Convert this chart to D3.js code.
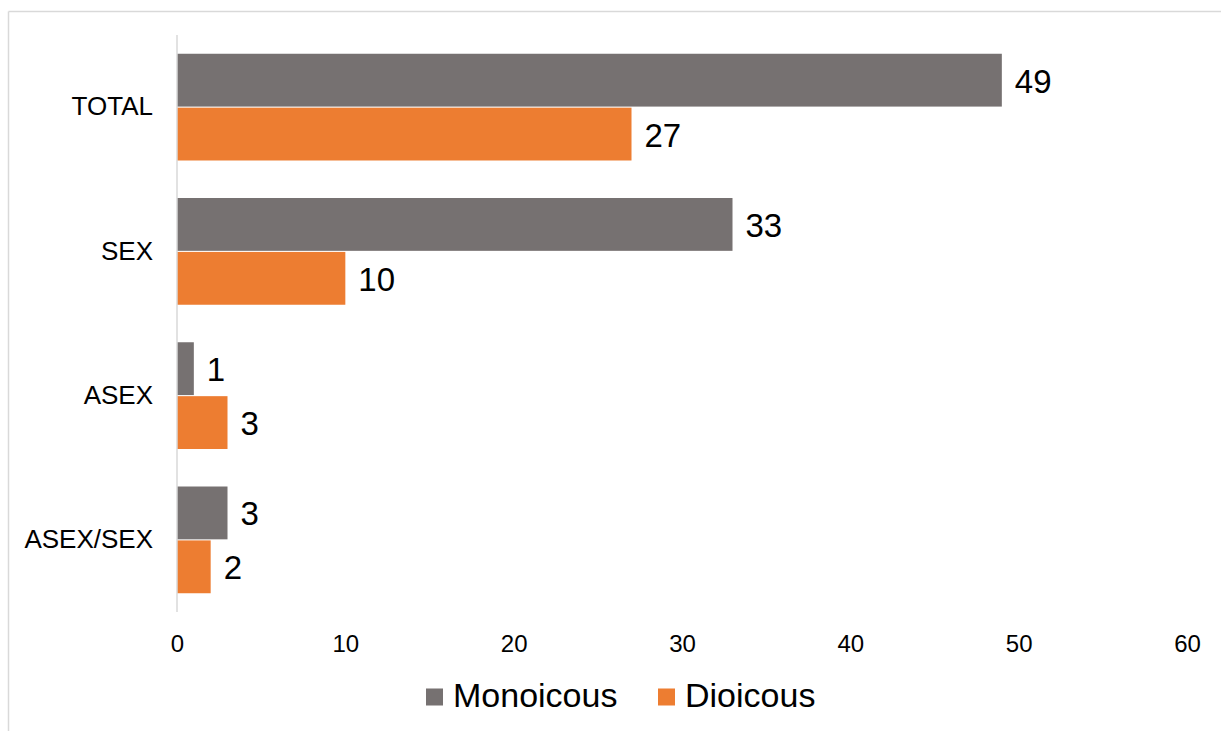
<!DOCTYPE html>
<html>
<head>
<meta charset="utf-8">
<script src="https://cdn.jsdelivr.net/npm/d3@7"></script>
<style>
  html, body { margin: 0; padding: 0; background: #fff; }
  svg { display: block; font-family: "Liberation Sans", Arial, sans-serif; }
</style>
</head>
<body>
<svg id="chart" width="1221" height="731"></svg>
<script>
// Reproductive mode counts by sexual system
const categories = ["TOTAL", "SEX", "ASEX", "ASEX/SEX"];
const seriesNames = ["Monoicous", "Dioicous"];
const monoicous = [49, 33, 1, 3];
const dioicous = [27, 10, 3, 2];
const xTicks = [0, 10, 20, 30, 40, 50, 60];
const colors = ["#767171", "#ED7D31"];

const FONT = "Liberation Sans, Arial, sans-serif";
const svg = d3.select("#chart");

// outer chart frame (top and left edges visible)
svg.append("line").attr("x1", 8.5).attr("x2", 1221).attr("y1", 11.5).attr("y2", 11.5)
  .attr("stroke", "#d9d9d9").attr("stroke-width", 1.5);
svg.append("line").attr("x1", 8.5).attr("x2", 8.5).attr("y1", 11.5).attr("y2", 731)
  .attr("stroke", "#d9d9d9").attr("stroke-width", 1.5);

const plot = { left: 177, right: 1187, top: 35, bottom: 612 };

const x = d3.scaleLinear().domain([0, 60]).range([plot.left, plot.right]);
const y = d3.scaleBand().domain(categories).range([plot.top, plot.bottom]).paddingInner(0.26).paddingOuter(0.13);
const ySub = d3.scaleBand().domain(seriesNames).range([0, y.bandwidth()]).paddingInner(0.02);

const rows = categories.map((c, i) => ({ cat: c, values: [monoicous[i], dioicous[i]] }));

const groups = svg.append("g").selectAll("g").data(rows).join("g")
  .attr("transform", d => `translate(0,${y(d.cat)})`);

groups.selectAll("rect").data(d => d.values.map((v, j) => ({ name: seriesNames[j], v, j })))
  .join("rect")
  .attr("x", x(0))
  .attr("y", d => ySub(d.name))
  .attr("width", d => x(d.v) - x(0))
  .attr("height", ySub.bandwidth())
  .attr("fill", d => colors[d.j]);

groups.selectAll("text.val").data(d => d.values.map((v, j) => ({ name: seriesNames[j], v, j })))
  .join("text")
  .attr("class", "val")
  .attr("x", d => x(d.v) + 13)
  .attr("y", d => ySub(d.name) + ySub.bandwidth() / 2)
  .attr("dy", "0.38em")
  .attr("font-size", 33)
  .attr("font-family", FONT)
  .attr("fill", "#000")
  .text(d => d.v);

// vertical category axis
const yAxis = svg.append("g").attr("transform", `translate(${plot.left},0)`)
  .call(d3.axisLeft(y).tickSize(0).tickPadding(24));
yAxis.attr("font-size", null).attr("font-family", null);
yAxis.select(".domain").attr("stroke", "#d9d9d9").attr("stroke-width", 1.5)
  .attr("d", `M0,${plot.top}V${plot.bottom}`);
yAxis.selectAll("text").attr("font-size", 26).attr("fill", "#000").attr("font-family", FONT);

// horizontal value axis labels (no axis line)
const xAxis = svg.append("g").attr("transform", `translate(0,${plot.bottom})`)
  .call(d3.axisBottom(x).tickValues(xTicks).tickSize(0).tickPadding(0));
xAxis.attr("font-size", null).attr("font-family", null);
xAxis.select(".domain").remove();
xAxis.selectAll("text").attr("font-size", 24).attr("fill", "#000").attr("font-family", FONT)
  .attr("dy", null).attr("y", 40);

// legend
const legend = svg.append("g").attr("transform", "translate(426,697)");
const legendOffsets = [0, 232];
seriesNames.forEach((name, i) => {
  const g = legend.append("g").attr("transform", `translate(${legendOffsets[i]},0)`);
  g.append("rect").attr("x", 0).attr("y", -8.5).attr("width", 17).attr("height", 17).attr("fill", colors[i]);
  g.append("text").attr("x", 27).attr("y", 10).attr("font-size", 34).attr("font-family", FONT)
    .attr("fill", "#000").text(name);
});
</script>
</body>
</html>
